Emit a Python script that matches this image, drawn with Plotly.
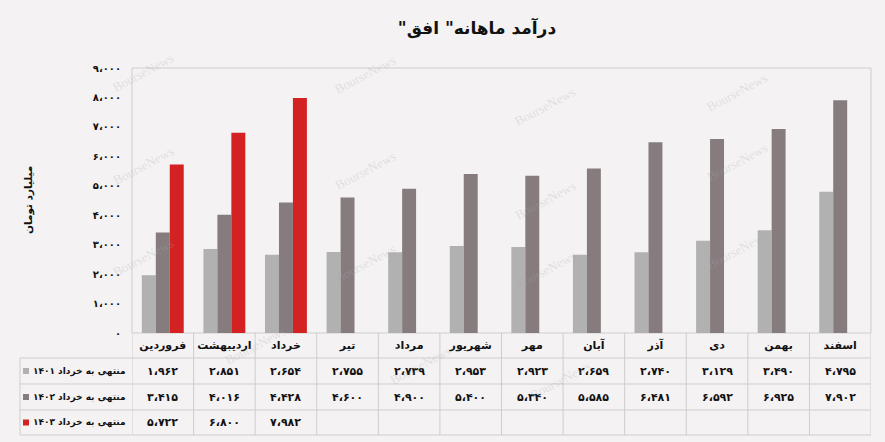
import plotly.graph_objects as go

# ---------------- data ----------------
months = ["فروردین", "اردیبهشت", "خرداد", "تیر", "مرداد", "شهریور",
          "مهر", "آبان", "آذر", "دی", "بهمن", "اسفند"]
rev_1401 = [1962, 2851, 2654, 2755, 2739, 2953, 2923, 2659, 2740, 3129, 3490, 4795]
rev_1402 = [3415, 4016, 4428, 4600, 4900, 5400, 5340, 5585, 6481, 6592, 6925, 7902]
rev_1403 = [5722, 6800, 7982, None, None, None, None, None, None, None, None, None]
series_names = ["منتهی به خرداد ۱۴۰۱", "منتهی به خرداد ۱۴۰۲", "منتهی به خرداد ۱۴۰۳"]
ytick_vals = [0, 1000, 2000, 3000, 4000, 5000, 6000, 7000, 8000, 9000]
title_text = "درآمد ماهانه\" افق\"\u200f"
y_title = "میلیارد تومان"
watermark = "BourseNews"

# ---------------- styling ----------------
W, H = 885, 442
PL, PR, PT, PB = 132, 871, 68, 333   # plot area in pixels
BG = "#f4f2f3"
GRID = "#cfcdce"
FONT = "DejaVu Sans"
colors = ["#b2b1b1", "#867c7d", "#d42222"]

PERSIAN = str.maketrans("0123456789", "۰۱۲۳۴۵۶۷۸۹")


def fa(n):
    if n is None:
        return ""
    s = f"{n:,}".replace(",", "،")
    return s.translate(PERSIAN)


def py2paper(py):
    return (PB - py) / (PB - PT)


def px2paper(px):
    return (px - PL) / (PR - PL)


fig = go.Figure()
for name, vals, col in zip(series_names, [rev_1401, rev_1402, rev_1403], colors):
    fig.add_trace(go.Bar(x=months, y=vals, name=name, marker=dict(color=col, line=dict(width=0)),
                         hoverinfo="skip"))

shapes = []
annotations = []

shapes.append(dict(type="rect", xref="paper", yref="paper", x0=0, x1=1, y0=0, y1=1,
                   line=dict(color=GRID, width=1), layer="below"))

row_lines = [358, 384, 410, 435]
row_centers = [371, 397, 422.5]
for ry in row_lines:
    shapes.append(dict(type="line", xref="paper", yref="paper", x0=px2paper(20), x1=1,
                       y0=py2paper(ry), y1=py2paper(ry), line=dict(color=GRID, width=1)))
for i in range(len(months) + 1):
    shapes.append(dict(type="line", xref="x", yref="paper", x0=i - 0.5, x1=i - 0.5,
                       y0=py2paper(PB), y1=py2paper(row_lines[-1]),
                       line=dict(color=GRID, width=1)))
shapes.append(dict(type="line", xref="paper", yref="paper", x0=px2paper(20), x1=px2paper(20),
                   y0=py2paper(row_lines[0]), y1=py2paper(row_lines[-1]),
                   line=dict(color=GRID, width=1)))

for r, vals in enumerate([rev_1401, rev_1402, rev_1403]):
    yc = py2paper(row_centers[r])
    for m, v in zip(months, vals):
        if v is None:
            continue
        annotations.append(dict(x=m, xref="x", y=yc, yref="paper", text=fa(v), showarrow=False,
                                font=dict(family=FONT, size=11, color="#111", weight="bold"),
                                xanchor="center", yanchor="middle"))
    annotations.append(dict(x=px2paper(128), xref="paper", y=yc, yref="paper",
                            text=series_names[r], showarrow=False, xanchor="right", yanchor="middle",
                            font=dict(family=FONT, size=9, color="#111", weight="bold")))
    shapes.append(dict(type="rect", xref="paper", yref="paper",
                       x0=px2paper(23), x1=px2paper(29), y0=yc - 3 / 265, y1=yc + 3 / 265,
                       fillcolor=colors[r], line=dict(width=0)))

annotations.append(dict(x=px2paper(28), xref="paper", y=py2paper(200), yref="paper", text=y_title,
                        textangle=-90, showarrow=False, xanchor="center", yanchor="middle",
                        font=dict(family=FONT, size=10.5, color="#111", weight="bold")))

for wx, wy in [(108, 48), (108, 165), (108, 282), (330, 50), (545, 82), (772, 68),
               (772, 162), (330, 170), (545, 200), (772, 275), (330, 288), (545, 295),
               (420, 390), (560, 405), (220, 370)]:
    annotations.append(dict(x=px2paper(wx), xref="paper", y=py2paper(wy), yref="paper",
                            text=watermark, showarrow=False, textangle=-28,
                            font=dict(family="Liberation Serif", size=13, color="rgba(170,170,170,0.28)")))

fig.update_layout(
    width=W, height=H,
    margin=dict(l=PL, r=W - PR, t=PT, b=H - PB, pad=0, autoexpand=False),
    paper_bgcolor=BG, plot_bgcolor=BG,
    barmode="group", bargap=0.32, bargroupgap=0,
    showlegend=False,
    title=dict(text=title_text, x=477 / W, xanchor="center", y=1 - 28 / H, yanchor="middle",
               font=dict(family=FONT, size=17, color="#111", weight="bold"), automargin=False),
    xaxis=dict(type="category", range=[-0.5, len(months) - 0.5], showgrid=False, zeroline=False,
               showline=False, ticks="", automargin=False,
               tickfont=dict(family=FONT, size=11, color="#111", weight="bold"),
               ticklabelstandoff=4),
    yaxis=dict(range=[0, 9000], tickvals=ytick_vals, ticktext=[fa(v) for v in ytick_vals],
               showgrid=False, zeroline=False, showline=False, ticks="", automargin=False,
               tickfont=dict(family=FONT, size=10, color="#111", weight="bold"),
               ticklabelstandoff=10),
    shapes=shapes,
    annotations=annotations,
)

fig.write_html("out.html", config={"displayModeBar": False},
               post_script="document.body.style.margin='0';document.body.style.overflow='hidden';")
